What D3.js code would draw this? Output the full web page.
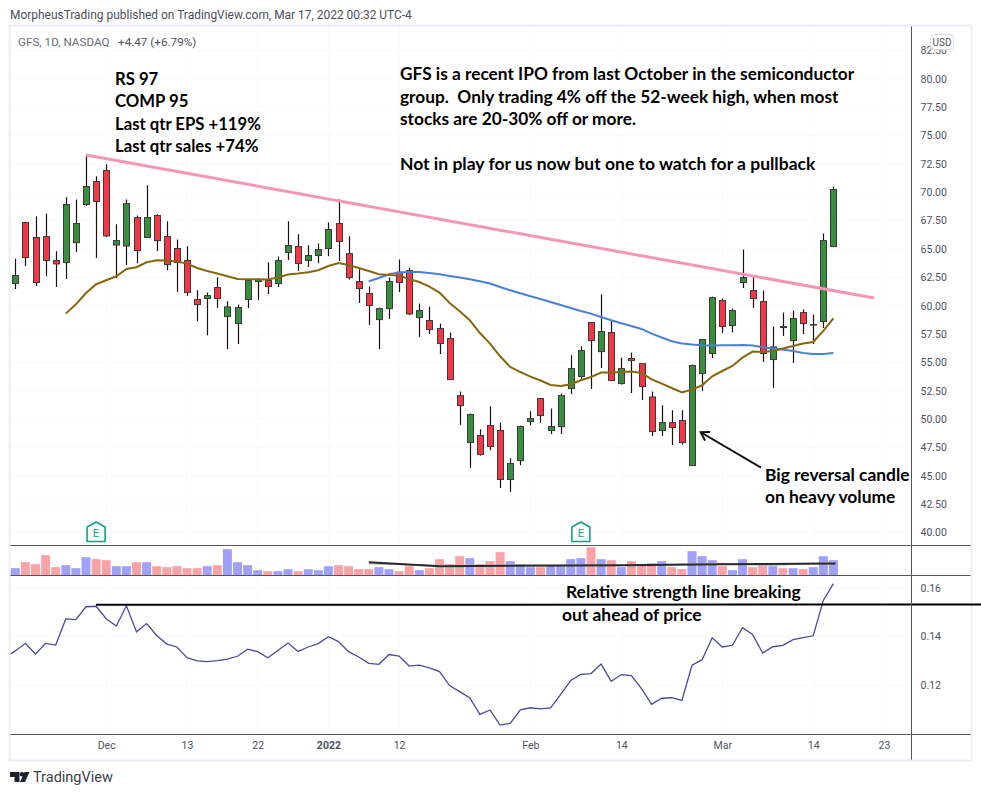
<html>
<head>
	<title>GFS chart</title>
	<style>
		body { margin: 0; background: #fff; }
		text { font-family: Roboto, sans-serif; }
		.note { font-family: Lato, sans-serif; font-weight: 700; font-size: 17.4px; fill: #000; }
		.tick text { fill: #50535e; font-size: 10.5px; }
	</style>
</head>
<body>
	<div id="chart"></div>
	<script src="https://d3js.org/d3.v7.min.js" charset="utf-8"></script>
	<script>
		// one entry per trading day
		var opens = [61.95,67.33,66.01,66.09,63.98,63.80,65.56,68.92,70.94,71.91,65.35,65.26,67.77,66.01,67.95,66.09,65.04,63.98,60.54,60.63,61.60,59.04,58.42,60.54,62.13,62.21,61.95,64.68,65.21,63.98,64.42,65.04,67.24,64.59,62.13,61.07,58.77,59.74,62.95,63.10,58.95,58.69,57.98,57.10,52.07,47.93,48.55,49.43,48.99,44.67,46.34,49.78,51.81,48.99,49.34,52.69,53.75,58.51,55.95,57.63,53.13,55.34,54.89,51.95,48.99,49.69,49.87,45.90,54.01,55.78,60.45,58.25,62.04,61.33,60.36,55.25,58.16,56.92,59.39,58.29,58.60,65.21];
		var closes = [62.65,64.24,62.04,63.98,63.68,68.92,67.24,70.50,69.18,66.15,65.74,69.00,64.86,67.77,65.74,63.62,63.80,61.16,60.10,60.89,60.63,59.89,59.83,62.21,62.30,61.68,63.98,65.30,63.71,64.42,64.95,66.71,65.65,62.48,61.51,60.01,59.74,62.13,62.04,59.27,59.57,57.89,56.66,53.48,51.19,50.40,46.87,47.58,44.67,46.08,49.34,50.04,50.31,49.34,52.07,54.45,56.04,56.92,57.72,53.40,54.45,55.16,52.87,48.90,49.69,49.25,47.93,54.72,57.01,60.71,58.16,59.57,62.48,60.63,55.78,56.36,58.07,58.86,58.42,58.33,65.74,70.24];
		var highs = [64.15,67.33,67.88,68.12,64.80,69.56,69.36,73.29,71.41,72.47,67.18,69.36,67.95,70.62,68.06,67.44,65.83,65.24,61.36,61.16,62.50,60.39,60.10,62.33,62.39,63.83,64.33,67.44,66.30,65.33,65.48,67.33,69.38,66.12,63.27,61.68,59.83,62.48,64.07,63.36,60.19,59.92,58.42,57.63,52.43,50.49,49.10,51.13,49.69,46.54,49.43,50.69,51.81,50.93,52.25,55.63,56.42,58.51,61.01,58.65,55.42,55.86,54.89,52.43,51.22,50.78,50.78,54.81,57.01,60.80,60.63,59.74,64.95,62.57,61.33,58.16,59.39,59.57,59.66,59.22,66.36,70.50];
		var lows = [61.47,63.50,61.74,62.59,61.65,62.35,64.74,68.79,64.21,66.06,62.44,63.59,63.74,66.01,64.82,63.12,61.21,60.86,58.62,57.39,59.80,56.18,56.62,59.80,60.48,61.03,61.65,64.03,63.06,63.41,63.74,64.36,63.94,62.30,60.24,58.30,56.18,58.83,61.21,59.18,57.24,57.50,55.74,53.48,49.48,45.69,46.78,47.25,43.93,43.57,45.93,49.45,49.66,48.69,48.69,52.21,53.40,52.65,54.51,53.40,53.04,52.30,51.68,48.51,48.51,47.72,47.75,45.90,52.48,55.39,57.59,57.65,61.56,59.80,55.04,52.74,57.33,54.95,57.50,56.62,58.03,65.18];
		var volumes = [2.44,4.44,3.78,6.78,2.78,3.44,2.44,6.11,5.44,5.11,3.11,3.11,4.44,4.44,3.11,2.78,3.11,2.44,2.44,3.11,3.44,8.78,4.44,3.44,1.78,1.44,1.44,2.11,1.44,2.11,1.78,3.11,3.44,3.11,2.11,2.11,2.78,2.11,1.44,3.11,1.78,2.44,5.44,3.78,6.44,5.78,3.78,4.78,7.78,4.78,3.78,2.78,2.78,3.44,3.44,5.44,5.78,9.44,5.44,5.11,2.78,4.78,3.78,4.11,4.78,2.78,2.11,8.11,6.44,5.11,3.11,1.78,5.44,2.78,3.78,3.11,2.44,2.44,2.11,2.78,6.44,5.11];

		// brown average starts on day 5, blue on day 35
		var brownStart = 5;
		var brownAvg = [59.30,60.12,61.12,61.89,62.24,62.59,63.24,63.39,63.83,64.00,63.98,63.89,63.71,63.32,63.06,62.83,62.59,62.35,62.33,62.33,62.30,62.48,62.74,62.83,62.95,63.12,63.50,63.77,63.59,63.32,63.06,62.77,62.71,62.65,62.35,62.09,61.68,61.16,60.24,59.51,58.71,57.59,56.66,55.54,54.60,54.15,53.75,53.40,53.01,52.92,53.07,53.42,53.71,54.10,54.10,54.15,54.19,54.07,53.51,53.13,52.74,52.36,52.60,52.98,53.77,54.24,54.68,55.42,55.95,55.91,56.01,56.22,56.45,56.66,56.80,57.77,58.89];
		var blueStart = 35;
		var blueAvg = [62.15,62.44,62.77,62.92,62.97,62.97,62.88,62.77,62.62,62.48,62.33,62.15,61.95,61.65,61.36,61.09,60.83,60.59,60.33,60.06,59.80,59.53,59.30,59.00,58.71,58.45,58.21,57.95,57.54,57.19,56.86,56.66,56.57,56.51,56.48,56.51,56.51,56.53,56.48,56.33,56.22,56.13,56.01,55.83,55.74,55.74,55.83];

		// relative strength, first value is the day before the first candle (clipped by the pane)
		var rsStart = -1;
		var rsLine = [.1315,.1341,.1372,.1328,.1372,.1365,.1472,.1469,.1522,.1524,.1473,.1443,.1526,.1419,.1453,.1404,.1369,.1357,.1313,.1300,.1297,.1301,.1307,.1319,.1348,.1338,.1313,.1343,.1373,.1339,.1357,.1371,.1399,.1379,.1338,.1316,.1290,.1286,.1326,.1320,.1279,.1283,.1271,.1256,.1199,.1174,.1148,.1081,.1099,.1037,.1044,.1099,.1108,.1103,.1107,.1163,.1220,.1245,.1248,.1287,.1216,.1244,.1240,.1186,.1122,.1147,.1149,.1138,.1282,.1305,.1395,.1357,.1364,.1436,.1408,.1332,.1358,.1364,.1387,.1395,.1403,.1548,.1617];

		var priceTicks = [82.5,80,77.5,75,72.5,70,67.5,65,62.5,60,57.5,55,52.5,50,47.5,45,42.5,40];
		var rsTicks = [0.16,0.14,0.12];
		var timeTicks = [9,17,24,31,38,51,60,70,79,86];
		var timeLabels = ["Dec","13","22","2022","12","Feb","14","Mar","14","23"];
		var earningsDays = [8,56];

		// hand drawn lines, as [day, value]
		var trendLine = [[7,73.29],[85.02,60.68]];
		var arrowLine = [[73.83,45.72],[67.86,48.84]];
		var volumeLine = [[35,4.43],[42,3.1],[60,3.43],[70,3.77],[81.2,4.0]];
		var volumeAvg = [[35,3.9],[42,3.3],[50,3.4],[60,3.3],[70,4.0],[75,3.4],[81,4.3]];
		var rsFlatLine = [[8,0.1530],[95.7,0.1531]];

		var width = 981, height = 795;
		var paneLeft = 10.5, axisX = 911.5, frameRight = 970.5, frameTop = 26.5, frameBottom = 759.5;
		var volTop = 545.5, volBottom = 575.5, rsBottom = 734.5;

		var x = d3.scaleLinear().domain([0,86]).range([15.3,883.9]);
		var yPrice = d3.scaleLinear().domain([40,82.5]).range([532.5,50.5]);
		var yVol = d3.scaleLinear().domain([0,10]).range([volBottom,volTop]);
		var yRs = d3.scaleLinear().domain([0.12,0.16]).range([685.3,587.7]);

		var svg = d3.select("#chart").append("svg").attr("width",width).attr("height",height)
			.style("display","block");

		svg.append("clipPath").attr("id","plot").append("rect")
			.attr("x",paneLeft).attr("y",frameTop).attr("width",axisX-paneLeft).attr("height",rsBottom-frameTop);

		// frame
		svg.append("rect").attr("x",paneLeft-1).attr("y",frameTop-1)
			.attr("width",frameRight-paneLeft+2).attr("height",frameBottom-frameTop+2)
			.attr("fill","none").attr("stroke","#eceef3").attr("stroke-width",2);

		// grid
		var grid = svg.append("g").attr("stroke","#eceef2").attr("stroke-dasharray","1,3");
		priceTicks.forEach(function(p) {
			grid.append("line").attr("x1",paneLeft).attr("x2",axisX).attr("y1",yPrice(p)).attr("y2",yPrice(p));
		});
		rsTicks.forEach(function(p) {
			grid.append("line").attr("x1",paneLeft).attr("x2",axisX).attr("y1",yRs(p)).attr("y2",yRs(p));
		});
		timeTicks.forEach(function(t) {
			grid.append("line").attr("x1",x(t)).attr("x2",x(t)).attr("y1",frameTop).attr("y2",rsBottom);
		});

		// volume
		svg.append("g").selectAll("rect").data(volumes).enter().append("rect")
			.attr("x",function(d,i) { return x(i)-4.5; })
			.attr("width",9)
			.attr("y",function(d) { return yVol(d); })
			.attr("height",function(d) { return yVol(0)-yVol(d); })
			.attr("fill",function(d,i) { return closes[i] >= opens[i] ? "#a1a1fb" : "#fda2a6"; });

		var lineXY = d3.line().x(function(d) { return x(d[0]); });
		svg.append("path").datum(volumeAvg).attr("fill","none").attr("stroke","#bdbdbd").attr("stroke-width",1.5)
			.attr("d",lineXY.y(function(d) { return yVol(d[1]); }));
		svg.append("path").datum(volumeLine).attr("fill","none").attr("stroke","#2a2a2a").attr("stroke-width",2)
			.attr("d",lineXY.y(function(d) { return yVol(d[1]); }));

		// candles
		var candles = svg.append("g").selectAll("g").data(opens).enter().append("g");
		candles.append("line")
			.attr("x1",function(d,i) { return Math.round(x(i))+0.5; })
			.attr("x2",function(d,i) { return Math.round(x(i))+0.5; })
			.attr("y1",function(d,i) { return yPrice(highs[i]); })
			.attr("y2",function(d,i) { return yPrice(lows[i]); })
			.attr("stroke","#1f0d0d").attr("stroke-width",1.2);
		candles.append("rect")
			.attr("x",function(d,i) { return Math.round(x(i))-2.5; })
			.attr("width",6)
			.attr("y",function(d,i) { return yPrice(Math.max(opens[i],closes[i])); })
			.attr("height",function(d,i) { return Math.max(0.5,Math.abs(yPrice(opens[i])-yPrice(closes[i]))); })
			.attr("fill",function(d,i) { return closes[i] >= opens[i] ? "#388e3c" : "#f23645"; })
			.attr("stroke","#3a3a3a").attr("stroke-width",1);

		// averages
		function avgLine(start) {
			return d3.line().x(function(d,i) { return x(i+start); }).y(function(d) { return yPrice(d); });
		}
		svg.append("path").datum(blueAvg).attr("fill","none").attr("stroke","#4a80dc").attr("stroke-width",2)
			.attr("d",avgLine(blueStart));
		svg.append("path").datum(brownAvg).attr("fill","none").attr("stroke","#87680e").attr("stroke-width",2)
			.attr("d",avgLine(brownStart));
		svg.append("path").datum(trendLine).attr("fill","none").attr("stroke","#f596b6").attr("stroke-width",3)
			.attr("d",lineXY.y(function(d) { return yPrice(d[1]); }));

		// arrow
		svg.append("defs").append("marker").attr("id","head")
			.attr("viewBox","0 0 12 12").attr("refX",10).attr("refY",6)
			.attr("markerWidth",12).attr("markerHeight",12).attr("markerUnits","userSpaceOnUse")
			.attr("orient","auto")
			.append("path").attr("d","M2,1 L10,6 L2,11").attr("fill","none").attr("stroke","#111").attr("stroke-width",2);
		svg.append("path").datum(arrowLine).attr("fill","none").attr("stroke","#111").attr("stroke-width",2)
			.attr("marker-end","url(#head)")
			.attr("d",lineXY.y(function(d) { return yPrice(d[1]); }));

		// earnings flags
		var flags = svg.append("g").selectAll("g").data(earningsDays).enter().append("g")
			.attr("transform",function(d) { return "translate("+x(d)+",0)"; });
		flags.append("path").attr("d","M-9,527 L0,522 L9,527 L9,541.5 L-9,541.5 Z")
			.attr("fill","#fff").attr("stroke","#14a085").attr("stroke-width",1.6).attr("stroke-linejoin","round");
		flags.append("text").attr("x",0).attr("y",537).attr("text-anchor","middle")
			.style("font-size","11.5px").style("fill","#14a085").text("E");

		// relative strength pane
		svg.append("path").datum(rsLine).attr("fill","none").attr("stroke","#4c4a9c").attr("stroke-width",1.3)
			.attr("clip-path","url(#plot)")
			.attr("d",d3.line().x(function(d,i) { return x(i+rsStart); }).y(function(d) { return yRs(d); }));
		svg.append("path").datum(rsFlatLine).attr("fill","none").attr("stroke","#000").attr("stroke-width",2)
			.attr("d",lineXY.y(function(d) { return yRs(d[1]); }));

		// pane separators
		[volTop,volBottom,rsBottom].forEach(function(yy) {
			svg.append("line").attr("x1",paneLeft).attr("x2",frameRight).attr("y1",yy).attr("y2",yy)
				.attr("stroke","#555").attr("stroke-width",1);
		});
		svg.append("line").attr("x1",axisX).attr("x2",axisX).attr("y1",frameTop).attr("y2",frameBottom)
			.attr("stroke","#555").attr("stroke-width",1);

		// axes
		var priceAxis = d3.axisRight(yPrice).tickValues(priceTicks).tickFormat(d3.format(".2f")).tickSize(0).tickPadding(9);
		svg.append("g").attr("transform","translate("+axisX+",0)").call(priceAxis).call(function(g) { g.select(".domain").remove(); });
		var rsAxis = d3.axisRight(yRs).tickValues(rsTicks).tickFormat(d3.format(".2f")).tickSize(0).tickPadding(9);
		svg.append("g").attr("transform","translate("+axisX+",0)").call(rsAxis).call(function(g) { g.select(".domain").remove(); });
		var timeAxis = d3.axisBottom(x).tickValues(timeTicks)
			.tickFormat(function(d,i) { return timeLabels[i]; }).tickSize(0).tickPadding(7);
		svg.append("g").attr("transform","translate(0,"+rsBottom+")").call(timeAxis)
			.call(function(g) {
				g.select(".domain").remove();
				g.selectAll("text").style("font-weight",function(d,i) { return timeLabels[i] == "2022" ? 700 : 400; });
			});

		// USD badge
		svg.append("rect").attr("x",930.5).attr("y",34.5).attr("width",23).attr("height",15).attr("rx",4)
			.attr("fill","#fff").attr("stroke","#d8dae3");
		svg.append("text").attr("x",942).attr("y",45.5).attr("text-anchor","middle")
			.style("font-size","10px").style("fill","#50535e").text("USD");

		// header
		svg.append("text").attr("x",10).attr("y",19).style("font-size","11.95px").style("fill","#4c4f59")
			.text("MorpheusTrading published on TradingView.com, Mar 17, 2022 00:32 UTC-4");
		svg.append("text").attr("x",18).attr("y",46).style("font-size","11.7px").style("fill","#6a6d78")
			.text("GFS, 1D, NASDAQ");
		svg.append("text").attr("x",118).attr("y",46).style("font-size","11.7px").style("fill","#50535e")
			.text("+4.47 (+6.79%)");

		// notes, the top left block is a little smaller than the rest
		var notes = [
			["RS 97",115,85,16.7],["COMP 95",115,107,16.7],["Last qtr EPS +119%",115,130,16.7],["Last qtr sales +74%",115,152,16.7],
			["GFS is a recent IPO from last October in the semiconductor",400,80,17.3],
			["group.  Only trading 4% off the 52-week high, when most",400,103,17.3],
			["stocks are 20-30% off or more.",400,125,17.3],
			["Not in play for us now but one to watch for a pullback",400,170,17.5],
			["Big reversal candle",765,481,17.4],["on heavy volume",765,503,17.4],
			["Relative strength line breaking",566,598,17.4],["out ahead of price",562,621,17.4]
		];
		svg.append("g").selectAll("text").data(notes).enter().append("text")
			.attr("class","note").attr("x",function(d) { return d[1]; }).attr("y",function(d) { return d[2]; })
			.style("font-size",function(d) { return d[3]+"px"; })
			.style("white-space","pre")
			.text(function(d) { return d[0]; });

		// footer logo
		var logo = svg.append("g").attr("fill","#1e222d");
		logo.append("path").attr("d","M10,772 H19.5 V782 H14.5 V777 H10 Z");
		logo.append("circle").attr("cx",22).attr("cy",774.3).attr("r",2.3);
		logo.append("path").attr("d","M24.5,772 H29.5 L25,782 H20 Z");
		svg.append("text").attr("x",33).attr("y",782).style("font-size","14.5px").style("fill","#3c3f48").text("TradingView");
	</script>
</body>
</html>
